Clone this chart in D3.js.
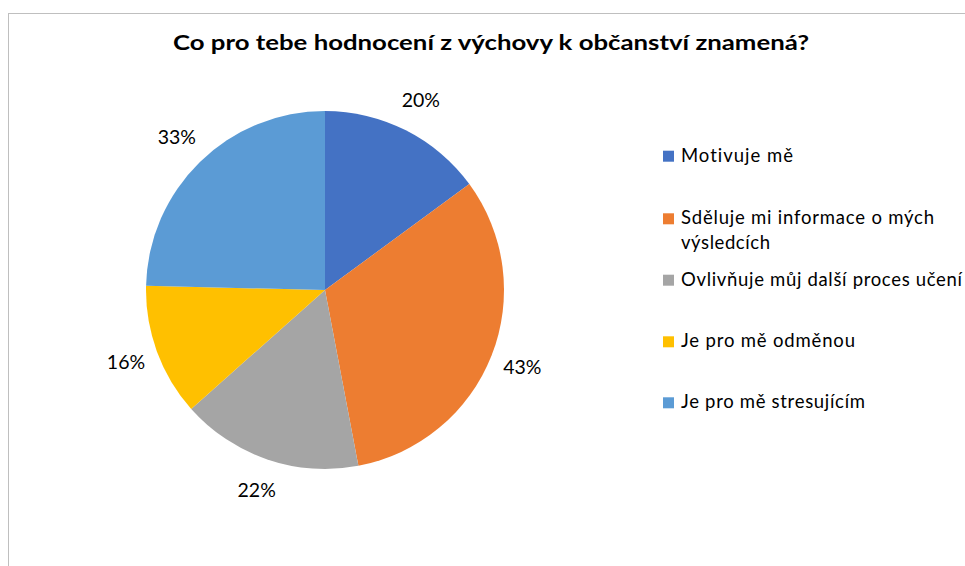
<!DOCTYPE html>
<html>
<head>
<meta charset="utf-8">
<script src="https://cdn.jsdelivr.net/npm/d3@7"></script>
<style>
  html, body { margin: 0; padding: 0; background: #fff; }
  svg { display: block; }
  text { font-family: Lato, "Open Sans", sans-serif; fill: #000; font-variant-ligatures: none; }
</style>
</head>
<body>
<svg id="chart" width="965" height="566"></svg>
<script>
const title = "Co pro tebe hodnocení z výchovy k občanství znamená?";
const categories = [
  "Motivuje mě",
  "Sděluje mi informace o mých výsledcích",
  "Ovlivňuje můj další proces učení",
  "Je pro mě odměnou",
  "Je pro mě stresujícím"
];
const legendLines = [
  ["Motivuje mě"],
  ["Sděluje mi informace o mých", "výsledcích"],
  ["Ovlivňuje můj další proces učení"],
  ["Je pro mě odměnou"],
  ["Je pro mě stresujícím"]
];
const values = [20, 43, 22, 16, 33];
const valueLabels = ["20%", "43%", "22%", "16%", "33%"];
const colors = ["#4472C4", "#ED7D31", "#A5A5A5", "#FFC000", "#5B9BD5"];

const svg = d3.select("#chart");
const W = 965, H = 566;

// chart border (only top and left visible in frame)
svg.append("rect")
  .attr("x", 8.5).attr("y", 13.5)
  .attr("width", W + 20).attr("height", H + 20)
  .attr("fill", "none").attr("stroke", "#bfbfbf").attr("stroke-width", 1);

// title
svg.append("text")
  .attr("x", 173).attr("y", 50)
  .attr("font-size", 21).attr("font-weight", 700)
  .attr("textLength", 636).attr("lengthAdjust", "spacingAndGlyphs")
  .text(title);

// pie
const cx = 325, cy = 290, R = 179;
const pie = d3.pie().sort(null).value(d => d)(values);
const arc = d3.arc().innerRadius(0).outerRadius(R);
const labelArc = d3.arc().innerRadius(212).outerRadius(212);

const g = svg.append("g").attr("transform", `translate(${cx},${cy})`);
g.selectAll("path").data(pie).join("path")
  .attr("d", arc)
  .attr("fill", (d, i) => colors[i]);

g.selectAll("text.lbl").data(pie).join("text")
  .attr("class", "lbl")
  .attr("x", d => labelArc.centroid(d)[0])
  .attr("y", d => labelArc.centroid(d)[1] + 6)
  .attr("text-anchor", "middle")
  .attr("font-size", 19.5)
  .text((d, i) => valueLabels[i]);

// legend
const legendBaselines = [161.7, 224.3, 285.7, 347.3, 408.3];
const legendWidths = [[112], [253, 89], [281], [174], [184]];
const lg = svg.append("g");
categories.forEach((c, i) => {
  const y0 = legendBaselines[i];
  lg.append("rect")
    .attr("x", 663).attr("y", y0 - 11)
    .attr("width", 11).attr("height", 11)
    .attr("fill", colors[i]);
  legendLines[i].forEach((line, j) => {
    lg.append("text")
      .attr("x", 681).attr("y", y0 + j * 25)
      .attr("font-size", 18.5)
      .attr("textLength", legendWidths[i][j])
      .attr("lengthAdjust", "spacing")
      .text(line);
  });
});
</script>
</body>
</html>
